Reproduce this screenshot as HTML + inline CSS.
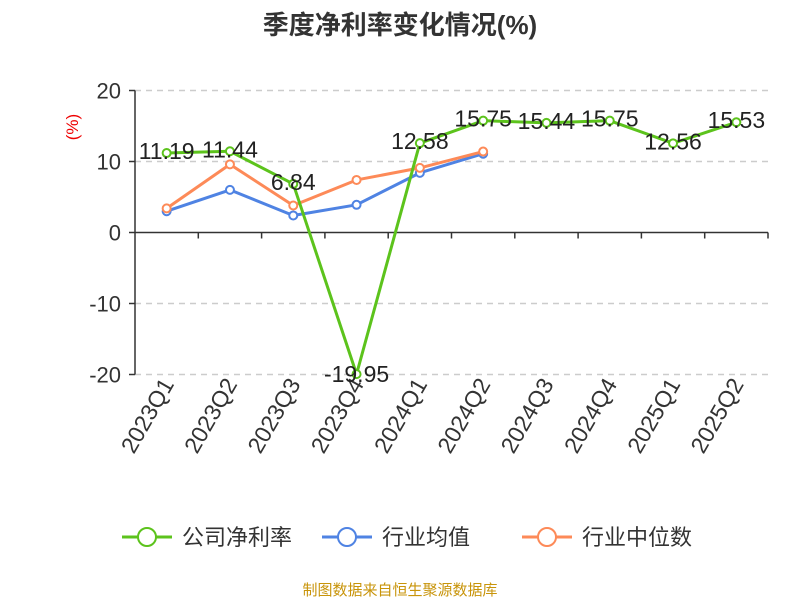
<!DOCTYPE html>
<html><head><meta charset="utf-8"><style>
body{margin:0;background:#fff;width:800px;height:600px;overflow:hidden;font-family:"Liberation Sans","Noto Sans CJK SC",sans-serif}
</style></head><body>
<svg id="c" width="800" height="600" xmlns="http://www.w3.org/2000/svg"></svg>
<script>
const categories=["2023Q1","2023Q2","2023Q3","2023Q4","2024Q1","2024Q2","2024Q3","2024Q4","2025Q1","2025Q2"];
const companyValues=[11.19,11.44,6.84,-19.95,12.58,15.75,15.44,15.75,12.56,15.53];
const industryAvg=[3.0,6.0,2.4,3.9,8.4,11.1];
const industryMedian=[3.4,9.6,3.8,7.4,9.1,11.4];
const yTicks=[20,10,0,-10,-20];
const seriesNames=["公司净利率","行业均值","行业中位数"];
const colors=["#5cc31c","#4f83e3","#fd8a58"];
const F='"Liberation Sans","Noto Sans CJK SC",sans-serif';
const svg=document.getElementById('c');
const NS="http://www.w3.org/2000/svg";
const x0=135,x1=768,yTop=90.5,yBot=374.5,vMax=20,vMin=-20;
const band=(x1-x0)/categories.length;
const xs=i=>x0+band*(i+0.5);
const ys=v=>yTop+(vMax-v)/(vMax-vMin)*(yBot-yTop);
function el(t,a,txt){const e=document.createElementNS(NS,t);for(const k in a)e.setAttribute(k,a[k]);if(txt!==undefined)e.textContent=txt;svg.appendChild(e);return e;}
let t=el('text',{x:400,y:34,'text-anchor':'middle','font-size':26,'font-weight':'bold',fill:'#333','font-family':F},'季度净利率变化情况(%)');

t=el('text',{x:78,y:127,'text-anchor':'middle','font-size':17,fill:'#e00','font-family':F,transform:'rotate(-90 78 127)'},'(%)');

yTicks.forEach(v=>{const y=ys(v);
 if(v!==0){const g=el('line',{x1:x0,x2:x1,y1:y,y2:y,stroke:'#ccc','stroke-dasharray':'6,5','stroke-width':1.5});}
 const tk=el('line',{x1:x0-6,x2:x0,y1:y,y2:y,stroke:'#333','stroke-width':1.5});
 const l=el('text',{x:x0-14,y:y+8,'text-anchor':'end','font-size':22,fill:'#333','font-family':F},String(v));
});
let a=el('line',{x1:x0,x2:x0,y1:yTop,y2:yBot,stroke:'#333','stroke-width':1.5});
a=el('line',{x1:x0,x2:x1,y1:ys(0),y2:ys(0),stroke:'#333','stroke-width':1.5});
categories.forEach((c,i)=>{const xt=x0+band*(i+1);
 const tk=el('line',{x1:xt,x2:xt,y1:ys(0),y2:ys(0)+6,stroke:'#333','stroke-width':1.5});
 const x=xs(i)+8,y=384;
 const l=el('text',{x:x,y:y,'text-anchor':'end','font-size':23,fill:'#333','font-family':F,transform:`rotate(-60 ${x} ${y})`},c);
});
function series(vals,ci,name,labels){
 const p=el('polyline',{points:vals.map((v,i)=>xs(i)+','+ys(v)).join(' '),fill:'none',stroke:colors[ci],'stroke-width':3,'stroke-linejoin':'round'});
 
 vals.forEach((v,i)=>{const m=el('circle',{cx:xs(i),cy:ys(v),r:4,fill:'#fff',stroke:colors[ci],'stroke-width':2});});
 if(labels)vals.forEach((v,i)=>{const l=el('text',{x:xs(i),y:ys(v)+(v<0?8:6),'text-anchor':'middle','font-size':23,fill:'#222','font-family':F},v.toFixed(2));});
}
series(industryAvg,1,'industry-average');
series(industryMedian,2,'industry-median');
series(companyValues,0,'company-net-margin',true);
const lx=[122,322,522];
seriesNames.forEach((n,i)=>{
 const g=document.createElementNS(NS,'g');svg.appendChild(g);
 const ln=document.createElementNS(NS,'line');[['x1',lx[i]],['x2',lx[i]+50],['y1',537],['y2',537],['stroke',colors[i]],['stroke-width',3]].forEach(k=>ln.setAttribute(k[0],k[1]));g.appendChild(ln);
 const ci=document.createElementNS(NS,'circle');[['cx',lx[i]+25],['cy',537],['r',9],['fill','#fff'],['stroke',colors[i]],['stroke-width',2]].forEach(k=>ci.setAttribute(k[0],k[1]));g.appendChild(ci);
 const tx=document.createElementNS(NS,'text');[['x',lx[i]+60],['y',545],['font-size',22],['fill','#333'],['font-family',F]].forEach(k=>tx.setAttribute(k[0],k[1]));tx.textContent=n;g.appendChild(tx);
});
t=el('text',{x:400,y:595,'text-anchor':'middle','font-size':15,fill:'#c8940a','font-family':F},'制图数据来自恒生聚源数据库');

</script>
</body></html>
